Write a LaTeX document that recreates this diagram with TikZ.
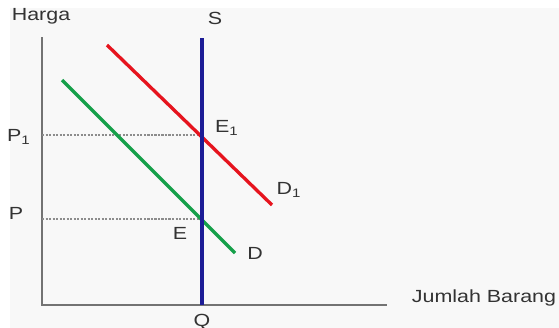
\documentclass[tikz,border=0pt]{standalone}
\usepackage{fontspec}
\setmainfont{Liberation Sans}
\usetikzlibrary{positioning}
\definecolor{plotbg}{HTML}{F8F8F8}
\definecolor{supblue}{HTML}{1C1C96}
\definecolor{demred}{HTML}{E6141E}
\definecolor{demgreen}{HTML}{16A04A}
\newcommand{\wide}[1]{\scalebox{1.22}[1]{#1}}

\begin{document}
\begin{tikzpicture}[
    x=0.02cm, y=-0.02cm,
    every node/.style={font=\fontsize{10}{12}\selectfont, text=black!80, inner sep=0pt},
    axis/.style={draw=black!55, line width=1.3pt},
    guide/.style={draw=black!45, dash pattern=on 1.2pt off 0.8pt, line width=0.6pt},
    supply/.style={draw=supblue, line width=2.1pt},
    demand/.style={draw=demgreen, line width=1.9pt},
    demandnew/.style={draw=demred, line width=1.9pt}
]
\useasboundingbox (0,0) rectangle (559,328);
\fill[plotbg] (10,8) rectangle (559,328);

% axes and points
\coordinate (O) at (42,305);
\coordinate (ytop) at (42,37);
\coordinate (xend) at (387,305);
\coordinate (stop) at (202,38);
\coordinate (sbot) at (202,305);
\coordinate (e1) at (202,135);
\coordinate (e) at (202,219);
\coordinate (p1) at (42,135);
\coordinate (p) at (42,219);
\coordinate (dtop) at (62,80);
\coordinate (dend) at (235,253);
\coordinate (d1top) at (107,45);
\coordinate (d1end) at (272,205);

\draw[axis] (ytop) -- (O) -- (xend);
\draw[guide] (p1) -- (e1);
\draw[guide] (p) -- (e);
\draw[demand] (dtop) -- (dend);
\draw[demandnew] (d1top) -- (d1end);
\draw[supply] (stop) -- (sbot);

% labels
\node (harga) at (41,16) {\wide{Harga}};
\node (lblS) at (215,18) {\wide{S}};
\node (lblP1) at (19,137) {\wide{P\textsubscript{1}}};
\node (lblP) at (16,213) {\wide{P}};
\node (lblE1) at (227,128) {\wide{E\textsubscript{1}}};
\node (lblD1) at (289,190) {\wide{D\textsubscript{1}}};
\node (lblE) at (180,233) {\wide{E}};
\node (lblD) at (255,253) {\wide{D}};
\node (lblQ) at (202,322) {\wide{Q}};
\node (jumlah) at (484,298) {\wide{Jumlah Barang}};
\end{tikzpicture}
\end{document}
